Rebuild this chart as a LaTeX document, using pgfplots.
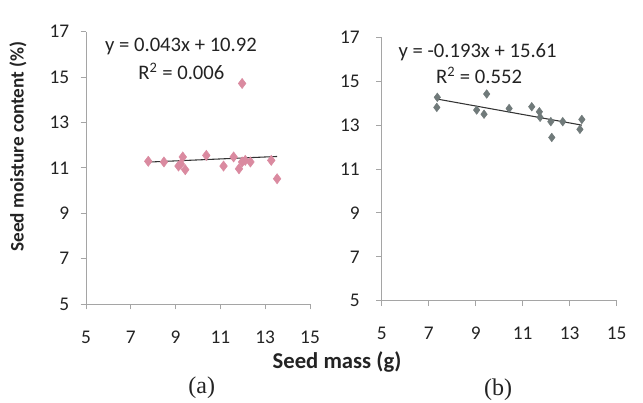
\documentclass[border=0pt]{standalone}
\usepackage{pgfplots}
\pgfplotsset{compat=1.18}
\usepackage{fontspec}
\setmainfont{Carlito}
\newfontfamily\serifA{Liberation Serif}

\definecolor{pinkpt}{RGB}{218,138,160}
\definecolor{graypt}{RGB}{112,122,122}
\definecolor{axgray}{RGB}{165,165,165}
\definecolor{txt}{RGB}{35,35,35}

\tikzset{eqn/.style={font=\fontsize{15.5}{15.5}\selectfont, text=txt}}

\pgfplotsset{
  seedaxis/.style={
    scale only axis,
    xmin=5, xmax=15, ymin=5, ymax=17,
    xtick={5,7,...,15}, ytick={5,7,...,17},
    axis x line*=bottom, axis y line*=left,
    axis line style={axgray, line width=0.7pt, -},
    tick style={axgray, line width=0.7pt},
    tick align=outside,
    major tick length=4pt,
    tick label style={font=\fontsize{14.5}{14.5}\selectfont, text=txt},
    /pgf/number format/assume math mode=true,
    xticklabel style={yshift=-12.5pt},
    clip=false,
  },
}

\begin{document}
\begin{tikzpicture}
\useasboundingbox (0,0) rectangle (482.25pt,302.25pt);

% (a)
\begin{axis}[seedaxis,
  at={(64.5pt,74.25pt)}, anchor=south west,
  width=168pt, height=204.2pt,
  yticklabel style={xshift=-5pt}]
\addplot[only marks, mark=diamond*, mark size=3.8pt, color=pinkpt] coordinates {
  (7.78,11.29) (8.48,11.26) (9.32,11.48) (9.13,11.08) (9.43,10.92)
  (9.23,11.17) (10.37,11.55) (11.14,11.08) (11.59,11.48) (11.83,10.96)
  (11.97,14.72) (11.97,11.26) (12.11,11.33) (12.34,11.26) (13.27,11.33)
  (13.53,10.52)
};
\addplot[black!80, line width=0.8pt] coordinates {(7.78,11.255) (13.53,11.502)};
\node[eqn] at (axis cs:9.24,16.34) {y = 0.043x + 10.92};
\node[eqn] at (axis cs:9.26,15.24) {R\textsuperscript{2} = 0.006};
\end{axis}

% (b)
\begin{axis}[seedaxis,
  at={(286.3pt,76.7pt)}, anchor=south west,
  width=176.25pt, height=197.5pt,
  yticklabel style={xshift=-9pt}]
\addplot[only marks, mark=diamond*, mark size=3.2pt, color=graypt] coordinates {
  (7.365,14.27) (7.344,13.81) (9.04,13.69) (9.354,13.50) (9.466,14.42)
  (10.42,13.76) (11.384,13.84) (11.708,13.61) (11.739,13.36) (12.196,13.16)
  (12.236,12.44) (12.703,13.16) (13.515,13.26) (13.434,12.81)
};
\addplot[black!80, line width=0.8pt] coordinates {(7.344,14.193) (13.515,13.002)};
\node[eqn] at (axis cs:9.08,16.34) {y = -0.193x + 15.61};
\node[eqn] at (axis cs:9.14,15.28) {R\textsuperscript{2} = 0.552};
\end{axis}

% shared labels
\node[font=\bfseries\fontsize{17}{17}\selectfont, text=txt] at (252.75pt,30.75pt) {Seed mass (g)};
\node[font=\bfseries\fontsize{14.4}{14.4}\selectfont, text=txt, rotate=90] at (13.5pt,192.4pt) {Seed moisture content (\%)};
\node[font=\serifA\fontsize{18}{18}\selectfont, text=txt] at (151.3pt,11.25pt) {(a)};
\node[font=\serifA\fontsize{18}{18}\selectfont, text=txt] at (373.5pt,9.75pt) {(b)};
\end{tikzpicture}
\end{document}
